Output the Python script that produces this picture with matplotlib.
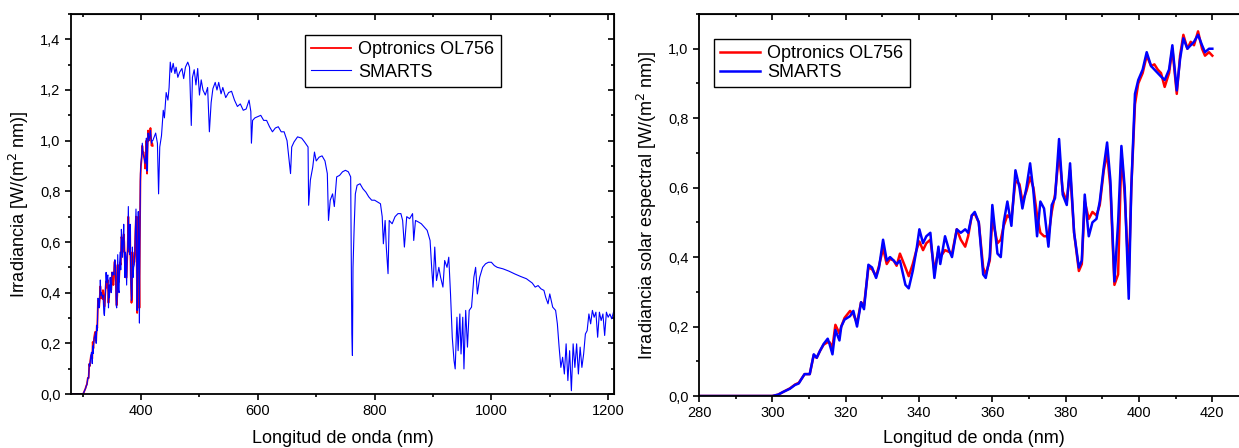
import matplotlib
matplotlib.use('Agg')
import matplotlib.pyplot as plt
from matplotlib.ticker import MultipleLocator, FuncFormatter, NullFormatter

plt.rcParams['font.family'] = ['Liberation Sans', 'DejaVu Sans']

# UV region, both sources (nm, W/(m2 nm))
wl_uv = [280, 290, 300, 301.6, 303.0, 304.8, 306.2, 307.2, 308.0, 308.8, 310.2,
         311.3, 312.1, 313.0, 314.0, 315.1, 315.6, 316.4, 317.2, 318.3, 318.8,
         319.7, 321.2, 322.1, 323.1, 324.2, 325.0, 326.2, 327.2, 328.3, 329.1,
         330.2, 331.2, 332.1, 333.1, 333.9, 334.8, 336.3, 337.2, 338.3, 339.3,
         340.1, 341.1, 342.0, 343.1, 344.2, 345.3, 345.8, 347.1, 348.2, 349.0,
         350.3, 351.4, 352.6, 353.4, 354.4, 355.2, 356.3, 357.5, 358.2, 359.3,
         360.0, 361.4, 362.3, 363.1, 364.1, 365.2, 366.3, 367.4, 368.2, 369.3,
         370.3, 371.2, 372.2, 373.1, 374.1, 375.3, 376.2, 377.1, 378.2, 379.2,
         380.3, 381.2, 382.3, 383.6, 384.4, 385.2, 386.3, 387.3, 388.4, 389.3,
         390.4, 391.3, 392.2, 393.3, 394.3, 395.2, 396.1, 397.2, 397.9, 398.9,
         399.8, 401.0, 402.1, 403.3, 404.2, 405.1, 406.0, 407.0, 408.2, 409.1,
         410.3, 411.2, 412.1, 413.2, 414.1, 415.0, 416.1, 417.2, 418.0, 419.1,
         420.0]
smarts_uv = [0, 0, 0, 0.004, 0.012, 0.021, 0.032, 0.036, 0.05, 0.063, 0.063,
             0.12, 0.11, 0.13, 0.15, 0.165, 0.15, 0.12, 0.19, 0.16, 0.2,
             0.22, 0.23, 0.245, 0.2, 0.27, 0.25, 0.378, 0.37, 0.34, 0.37,
             0.45, 0.39, 0.40, 0.39, 0.38, 0.39, 0.32, 0.31, 0.36, 0.42,
             0.48, 0.44, 0.46, 0.47, 0.34, 0.43, 0.38, 0.46, 0.42, 0.40,
             0.48, 0.47, 0.48, 0.47, 0.52, 0.53, 0.50, 0.35, 0.34, 0.40,
             0.55, 0.41, 0.40, 0.50, 0.56, 0.49, 0.65, 0.60, 0.54, 0.60,
             0.67, 0.59, 0.46, 0.56, 0.54, 0.43, 0.55, 0.57, 0.74, 0.58,
             0.55, 0.67, 0.47, 0.37, 0.39, 0.58, 0.46, 0.50, 0.51, 0.56,
             0.66, 0.73, 0.62, 0.33, 0.50, 0.72, 0.60, 0.28, 0.60, 0.87,
             0.91, 0.94, 0.99, 0.95, 0.94, 0.93, 0.92, 0.91, 0.94, 1.01,
             0.88, 0.97, 1.03, 1.00, 1.01, 1.02, 1.04, 1.01, 0.99, 1.00,
             1.00]
optronics_uv = [0, 0, 0, 0.004, 0.012, 0.022, 0.033, 0.038, 0.05, 0.063, 0.063,
                0.118, 0.11, 0.13, 0.148, 0.155, 0.155, 0.14, 0.205, 0.18, 0.2,
                0.225, 0.245, 0.235, 0.21, 0.27, 0.26, 0.37, 0.365, 0.345, 0.375,
                0.425, 0.38, 0.395, 0.39, 0.375, 0.41, 0.37, 0.345, 0.38, 0.42,
                0.445, 0.42, 0.44, 0.45, 0.36, 0.42, 0.40, 0.42, 0.415, 0.41,
                0.48, 0.45, 0.43, 0.46, 0.52, 0.525, 0.50, 0.37, 0.35, 0.39,
                0.51, 0.44, 0.45, 0.49, 0.52, 0.51, 0.62, 0.61, 0.56, 0.59,
                0.63, 0.60, 0.52, 0.47, 0.46, 0.46, 0.53, 0.58, 0.70, 0.59,
                0.56, 0.65, 0.47, 0.36, 0.38, 0.56, 0.51, 0.53, 0.52, 0.55,
                0.65, 0.70, 0.60, 0.32, 0.35, 0.70, 0.58, 0.34, 0.60, 0.84,
                0.90, 0.93, 0.98, 0.95, 0.955, 0.94, 0.93, 0.89, 0.93, 1.00,
                0.87, 0.98, 1.04, 1.00, 1.02, 1.01, 1.05, 1.00, 0.98, 0.99,
                0.98]

# SMARTS, visible / NIR part (nm, W/(m2 nm))
wl_vis = [425, 428, 430, 432, 435, 438, 440, 443, 446, 448, 450, 452, 455, 458,
          460, 463, 466, 470, 473, 476, 480, 483, 486, 488, 491, 494, 497, 500,
          503, 506, 510, 514, 517, 520, 523, 527, 530, 533, 537, 540, 545, 550,
          555, 560, 565, 570, 575, 580, 585, 588, 589, 591, 595, 600, 605, 610,
          615, 620, 625, 630, 635, 640, 645, 650, 656, 658, 662, 668, 675, 680,
          686, 687, 690, 694, 697, 700, 705, 710, 715, 719, 721, 724, 728, 731,
          735, 740, 745, 750, 755, 759, 761, 762, 763, 765, 767, 770, 775, 780,
          785, 790, 795, 800, 805, 810, 813, 815, 818, 820, 823, 825, 830, 835,
          840, 845, 848, 851, 855, 860, 865, 867, 870, 875, 880, 885, 890, 895,
          898, 900, 903, 906, 910, 913, 917, 920, 924, 927, 930, 933, 936, 938,
          941, 943, 946, 948, 951, 953, 956, 959, 962, 966, 970, 973, 976, 980,
          985, 990, 995, 1000, 1005, 1010, 1020, 1030, 1040, 1050, 1060, 1070,
          1075, 1080, 1085, 1090, 1093, 1097, 1100, 1105, 1110, 1113, 1116,
          1119, 1122, 1125, 1128, 1131, 1134, 1137, 1140, 1143, 1146, 1149,
          1152, 1155, 1158, 1161, 1164, 1167, 1170, 1173, 1176, 1179, 1182,
          1185, 1188, 1191, 1194, 1197, 1200, 1203, 1206, 1210]
smarts_vis = [1.03, 0.99, 0.79, 0.975, 1.02, 1.12, 1.09, 1.19, 1.16, 1.21, 1.31,
              1.27, 1.305, 1.265, 1.29, 1.25, 1.27, 1.285, 1.245, 1.29, 1.31,
              1.29, 1.06, 1.25, 1.28, 1.22, 1.285, 1.18, 1.24, 1.2, 1.18, 1.21,
              1.035, 1.15, 1.205, 1.23, 1.2, 1.23, 1.185, 1.21, 1.17, 1.19,
              1.195, 1.16, 1.135, 1.145, 1.12, 1.125, 1.16, 1.115, 0.99, 1.08,
              1.09, 1.095, 1.1, 1.08, 1.08, 1.055, 1.035, 1.05, 1.055, 1.035,
              1.035, 1.0, 0.87, 0.975, 0.995, 1.015, 1.01, 0.995, 0.975, 0.745,
              0.845, 0.895, 0.955, 0.92, 0.935, 0.94, 0.92, 0.87, 0.685, 0.765,
              0.79, 0.74, 0.857, 0.863, 0.877, 0.883, 0.877, 0.857, 0.237,
              0.152, 0.5, 0.66, 0.79, 0.824, 0.83, 0.81, 0.797, 0.778, 0.765,
              0.765, 0.758, 0.751, 0.7, 0.593, 0.685, 0.58, 0.475, 0.685, 0.672,
              0.7, 0.712, 0.712, 0.685, 0.58, 0.7, 0.692, 0.712, 0.606, 0.685,
              0.679, 0.672, 0.659, 0.646, 0.606, 0.488, 0.422, 0.58, 0.448, 0.5,
              0.461, 0.422, 0.527, 0.5, 0.54, 0.395, 0.224, 0.132, 0.099, 0.303,
              0.171, 0.316, 0.158, 0.303, 0.099, 0.33, 0.185, 0.33, 0.343,
              0.461, 0.5, 0.395, 0.461, 0.5, 0.514, 0.52, 0.52, 0.507, 0.5,
              0.494, 0.485, 0.474, 0.464, 0.455, 0.438, 0.422, 0.428, 0.415,
              0.409, 0.382, 0.356, 0.395, 0.343, 0.33, 0.277, 0.185, 0.105,
              0.145, 0.079, 0.198, 0.053, 0.171, 0.013, 0.198, 0.105, 0.198,
              0.079, 0.185, 0.105, 0.158, 0.237, 0.25, 0.316, 0.277, 0.33,
              0.303, 0.323, 0.224, 0.323, 0.29, 0.316, 0.231, 0.323, 0.303,
              0.316, 0.297, 0.33]

labels = ['Optronics OL756', 'SMARTS']
xlabel = 'Longitud de onda (nm)'
ylabel_left = 'Irradiancia [W/(m$^2$ nm)]'
ylabel_right = 'Irradiancia solar espectral [W/(m$^2$ nm)]'

W, H = 1239, 448
fig = plt.figure(figsize=(W / 100, H / 100), dpi=100)
ax1 = fig.add_axes([71 / W, 54 / H, 543 / W, 380 / H])
ax2 = fig.add_axes([699 / W, 52 / H, 550 / W, 382 / H])

comma = FuncFormatter(lambda v, p: f'{v:.1f}'.replace('.', ','))


def style(ax, xmaj, xmin):
    for sp in ax.spines.values():
        sp.set_linewidth(1.3)
    ax.xaxis.set_major_locator(MultipleLocator(xmaj))
    ax.xaxis.set_minor_locator(MultipleLocator(xmin))
    ax.yaxis.set_major_locator(MultipleLocator(0.2))
    ax.yaxis.set_minor_locator(MultipleLocator(0.1))
    ax.yaxis.set_major_formatter(comma)
    ax.tick_params(which='both', direction='out', labelsize=10.5, width=1.2,
                   pad=3)
    ax.tick_params(which='major', length=4.5)
    ax.tick_params(which='minor', length=2.5)
    # mirrored ticks pointing inward
    top = ax.secondary_xaxis('top')
    top.xaxis.set_major_locator(MultipleLocator(xmaj))
    top.xaxis.set_minor_locator(MultipleLocator(xmin))
    top.xaxis.set_major_formatter(NullFormatter())
    top.tick_params(which='both', direction='in', width=1.2)
    top.tick_params(which='major', length=4.5)
    top.tick_params(which='minor', length=2.5)
    right = ax.secondary_yaxis('right')
    right.yaxis.set_major_locator(MultipleLocator(0.2))
    right.yaxis.set_minor_locator(MultipleLocator(0.1))
    right.yaxis.set_major_formatter(NullFormatter())
    right.tick_params(which='both', direction='in', width=1.2)
    right.tick_params(which='major', length=4.5)
    right.tick_params(which='minor', length=2.5)


# left panel
ax1.plot(wl_uv, optronics_uv, color='#ff0000', lw=1.3, label=labels[0])
ax1.plot(wl_uv + wl_vis, smarts_uv + smarts_vis, color='#0000ff', lw=0.8,
         label=labels[1])
ax1.set_xlim(280, 1210)
ax1.set_ylim(0, 1.5)
style(ax1, 200, 100)
ax1.set_xlabel(xlabel, fontsize=13)
ax1.set_ylabel(ylabel_left, fontsize=13)
ax1.xaxis.set_label_coords(0.5, -0.095)
ax1.yaxis.set_label_coords(-0.073, 0.5)
ax1.legend(loc='upper left', bbox_to_anchor=(0.431, 0.945), fontsize=13,
           fancybox=False, edgecolor='black', framealpha=1, handlelength=2.2,
           handletextpad=0.4, borderpad=0.35, labelspacing=0.3,
           borderaxespad=0).get_frame().set_linewidth(1.0)

# right panel
ax2.plot(wl_uv, optronics_uv, color='#ff0000', lw=1.8, label=labels[0])
ax2.plot(wl_uv, smarts_uv, color='#0000ff', lw=1.8, label=labels[1])
ax2.set_xlim(280, 430)
ax2.set_ylim(0, 1.1)
style(ax2, 20, 10)
ax2.set_xlabel(xlabel, fontsize=13)
ax2.set_ylabel(ylabel_right, fontsize=13)
ax2.xaxis.set_label_coords(0.5, -0.09)
ax2.yaxis.set_label_coords(-0.072, 0.5)
ax2.legend(loc='upper left', bbox_to_anchor=(0.027, 0.935), fontsize=13,
           fancybox=False, edgecolor='black', framealpha=1, handlelength=2.2,
           handletextpad=0.4, borderpad=0.35, labelspacing=0.1,
           borderaxespad=0).get_frame().set_linewidth(1.0)

fig.savefig('out.png', dpi=100)
